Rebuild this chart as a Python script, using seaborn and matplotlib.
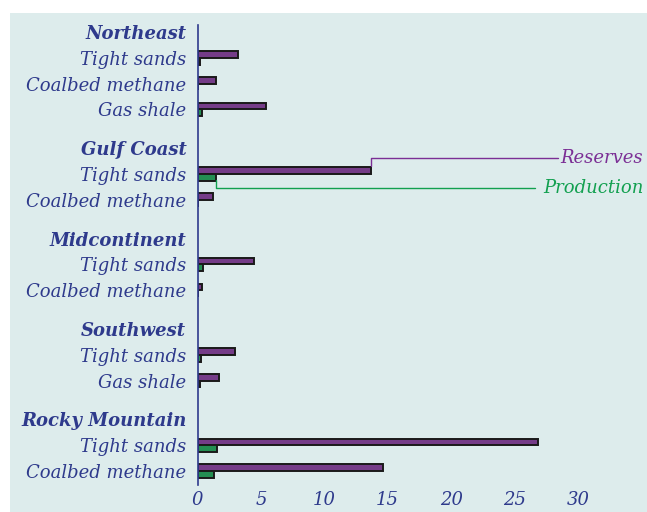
import pandas as pd
import matplotlib.pyplot as plt
import seaborn as sns
from matplotlib.patches import Rectangle

# rows from top to bottom; header rows carry no bars
regions = ['Northeast', 'Gulf Coast', 'Midcontinent', 'Southwest', 'Rocky Mountain']
region_rows = {
    'Northeast': ['Tight sands', 'Coalbed methane', 'Gas shale'],
    'Gulf Coast': ['Tight sands', 'Coalbed methane'],
    'Midcontinent': ['Tight sands', 'Coalbed methane'],
    'Southwest': ['Tight sands', 'Gas shale'],
    'Rocky Mountain': ['Tight sands', 'Coalbed methane'],
}
reserves = [3.2, 1.45, 5.4, 13.7, 1.2, 4.45, 0.33, 2.95, 1.7, 26.85, 14.6]
production = [0.2, 0.05, 0.35, 1.45, 0.05, 0.4, 0.03, 0.3, 0.2, 1.5, 1.3]

text_col = '#2e3a8c'
res_col = '#7b2f95'
prod_col = '#12a050'
bg_col = '#ddecec'

# row positions: headers get an extra half row of space before them
labels, positions, is_header, data_pos = [], [], [], []
pos = 0.0
for i, reg in enumerate(regions):
    if i > 0:
        pos += 0.5
    labels.append(reg); positions.append(pos); is_header.append(True)
    pos += 1
    for sub in region_rows[reg]:
        labels.append(sub); positions.append(pos); is_header.append(False)
        data_pos.append(pos)
        pos += 1

df = pd.DataFrame({
    'pos': data_pos * 2,
    'value': reserves + production,
    'kind': ['Reserves'] * len(reserves) + ['Production'] * len(production),
})

sns.set_style('white')
plt.rcParams['font.family'] = ['DejaVu Serif']

fig = plt.figure(figsize=(6.47, 5.12), dpi=100)
fig.patch.set_facecolor('white')
fig.patches.append(Rectangle((10 / 647, 0), 1, (512 - 13) / 512,
                             transform=fig.transFigure, facecolor=bg_col,
                             edgecolor='none', zorder=-10))

ax = fig.add_axes([197.5 / 647, (512 - 485) / 512, (647 - 197.5) / 647, (485 - 25) / 512])
ax.set_facecolor('none')

sns.barplot(data=df, x='value', y='pos', hue='kind', orient='h', native_scale=True,
            hue_order=['Reserves', 'Production'],
            palette={'Reserves': res_col, 'Production': prod_col},
            width=0.52, dodge=True, edgecolor='#1a1a1a', linewidth=1.4,
            legend=False, ax=ax)

ax.set_xlim(0, 35.45)
ax.set_ylim(17.54, -0.27)
ax.set_xticks([0, 5, 10, 15, 20, 25, 30])
ax.set_xticklabels(['0', '5', '10', '15', '20', '25', '30'], style='italic',
                   fontsize=13, color=text_col)
ax.set_yticks(positions)
ax.set_yticklabels(labels, fontsize=13, color=text_col, style='italic')
for lab, hdr in zip(ax.get_yticklabels(), is_header):
    if hdr:
        lab.set_fontweight('bold')
ax.tick_params(axis='x', direction='in', length=4.5, width=1.2, color=text_col, pad=4)
ax.tick_params(axis='y', length=0, pad=8)
ax.set_xlabel('')
ax.set_ylabel('')
for s in ['top', 'right', 'bottom']:
    ax.spines[s].set_visible(False)
ax.spines['left'].set_color(text_col)
ax.spines['left'].set_linewidth(1.2)

# callouts for the Gulf Coast tight sands bars
gc = data_pos[3]
ax.plot([13.7, 13.7, 28.4], [gc - 0.3, gc - 0.62, gc - 0.62], color=res_col, lw=1.0, clip_on=False)
ax.text(28.6, gc - 0.62, 'Reserves', color=res_col, fontsize=13, style='italic',
        va='center', ha='left', clip_on=False)
ax.plot([1.45, 1.45, 26.6], [gc + 0.25, gc + 0.54, gc + 0.54], color=prod_col, lw=1.0, clip_on=False)
ax.text(27.25, gc + 0.54, 'Production', color=prod_col, fontsize=13, style='italic',
        va='center', ha='left', clip_on=False)

fig.savefig('out.png', dpi=100)
